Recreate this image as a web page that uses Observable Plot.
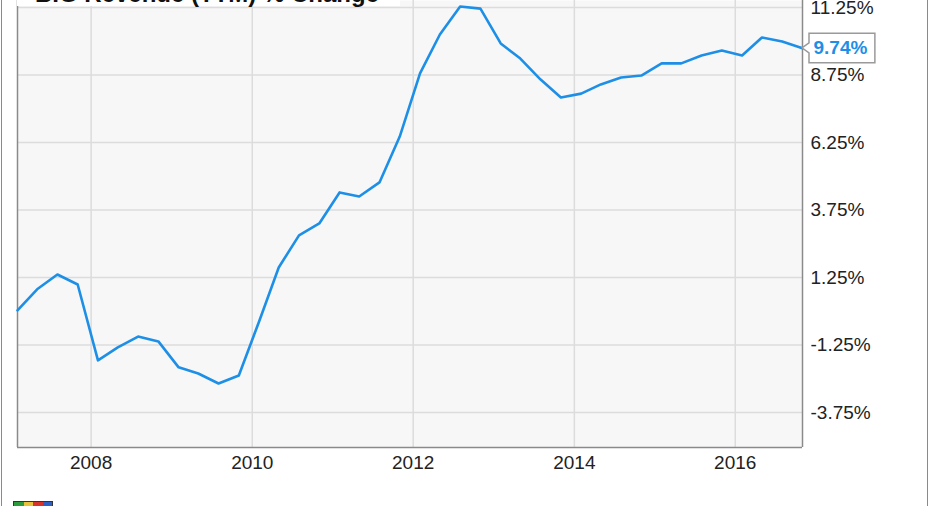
<!DOCTYPE html>
<html>
<head>
<meta charset="utf-8">
<script src="https://cdn.jsdelivr.net/npm/d3@7"></script>
<script src="https://cdn.jsdelivr.net/npm/@observablehq/plot@0.6"></script>
<style>
  html, body { margin: 0; padding: 0; background: #fff; overflow: hidden; }
  #wrap { position: relative; width: 931px; height: 506px; overflow: hidden; font-family: "Liberation Sans", Arial, sans-serif; }
  #title { position: absolute; left: 17px; top: -19px; width: 365px; height: 25px; line-height: 25px; padding-left: 18px;
           background: #fff; font-weight: bold; font-size: 24px; color: #111; white-space: nowrap; }
  #outer { position: absolute; left: 1px; top: 0; width: 925px; height: 506px; border-left: 1px solid #8a8a8a; border-right: 1px solid #8a8a8a; pointer-events: none; }
  #logo { position: absolute; left: 13px; top: 501px; width: 38px; height: 6px; border: 1px solid #333; display: flex; }
  #logo span { flex: 1; }
</style>
</head>
<body>
<div id="wrap">
  <div id="chart"></div>
  <div id="title"></div>
  <div id="outer"></div>
  <div id="logo"><span style="background:#2a9d3a"></span><span style="background:#e8c23a"></span><span style="background:#d8322c"></span><span style="background:#2d5fc4"></span></div>
</div>
<script>
const titleText = "BIG Revenue (TTM) % Change";
const dates = [
  "2007-02-01","2007-05-01","2007-08-01","2007-11-01",
  "2008-02-01","2008-05-01","2008-08-01","2008-11-01",
  "2009-02-01","2009-05-01","2009-08-01","2009-11-01",
  "2010-02-01","2010-05-01","2010-08-01","2010-11-01",
  "2011-02-01","2011-05-01","2011-08-01","2011-11-01",
  "2012-02-01","2012-05-01","2012-08-01","2012-11-01",
  "2013-02-01","2013-05-01","2013-08-01","2013-11-01",
  "2014-02-01","2014-05-01","2014-08-01","2014-11-01",
  "2015-02-01","2015-05-01","2015-08-01","2015-11-01",
  "2016-02-01","2016-05-01","2016-08-01","2016-11-01"
];
const values = [
  0.03, 0.81, 1.36, 0.99,
  -1.82, -1.34, -0.94, -1.12,
  -2.08, -2.31, -2.68, -2.38,
  -0.38, 1.62, 2.81, 3.25,
  4.40, 4.25, 4.77, 6.47,
  8.81, 10.25, 11.29, 11.21,
  9.92, 9.36, 8.58, 7.92,
  8.06, 8.40, 8.66, 8.73,
  9.18, 9.18, 9.47, 9.66,
  9.47, 10.14, 9.99, 9.74
];
const yTicks = [-3.75, -1.25, 1.25, 3.75, 6.25, 8.75, 11.25];
const xTickYears = ["2008", "2010", "2012", "2014", "2016"];
const yDomain = [-5.05, 11.51];
const xDomain = ["2007-02-01", "2016-11-01"];

const data = dates.map((d, i) => ({date: new Date(d), value: values[i]}));
const last = data[data.length - 1];
const xTicks = xTickYears.map(y => new Date(y + "-01-01"));
const blue = "#1e8fe6";

document.getElementById("title").textContent = titleText;

const chart = Plot.plot({
  width: 931,
  height: 506,
  marginLeft: 17,
  marginRight: 129,
  marginTop: 0,
  marginBottom: 59,
  style: {fontFamily: "'Liberation Sans', Arial, sans-serif", fontSize: "19px", color: "#222", background: "transparent"},
  x: {type: "utc", domain: xDomain.map(d => new Date(d))},
  y: {domain: yDomain},
  marks: [
    Plot.frame({fill: "#f7f7f7", stroke: null}),
    Plot.gridX(xTicks, {stroke: "#dcdcdc", strokeOpacity: 1, strokeWidth: 1.5}),
    Plot.gridY(yTicks, {stroke: "#dcdcdc", strokeOpacity: 1, strokeWidth: 1.5}),
    Plot.ruleY([yDomain[0]], {stroke: "#8a8a8a", strokeWidth: 1.5}),
    Plot.ruleX([new Date(xDomain[0]), new Date(xDomain[1])], {stroke: "#8a8a8a", strokeWidth: 1.5}),
    Plot.axisX({ticks: xTicks, tickFormat: d3.utcFormat("%Y"), tickSize: 0, tickPadding: 8, fontSize: 19, label: null}),
    Plot.axisY({anchor: "right", ticks: yTicks, tickFormat: d => d.toFixed(2) + "%", tickSize: 0, tickPadding: 8, fontSize: 19, label: null}),
    Plot.line(data, {x: "date", y: "value", stroke: blue, strokeWidth: 2.6}),
    Plot.text([last], {x: "date", y: "value", text: d => d.value.toFixed(2) + "%", dx: 11, textAnchor: "start",
                       fill: blue, fontWeight: "bold", fontSize: 19, className: "lastlabel"})
  ]
});
document.getElementById("chart").appendChild(chart);

// callout box around the last-value label, drawn in svg root coordinates
const xs = chart.scale("x"), ys = chart.scale("y");
const px = xs.apply(last.date), py = ys.apply(last.value);
const t = chart.querySelector(".lastlabel text");
if (t) {
  const tw = t.getComputedTextLength();
  const left = px + 7, right = px + 11 + tw + 8;
  const top = py - 14.5, bottom = py + 15;
  const d = `M${px},${py} L${left},${py - 5} L${left},${top} L${right},${top} L${right},${bottom} L${left},${bottom} L${left},${py + 5} Z`;
  const g = t.parentNode;
  const path = document.createElementNS("http://www.w3.org/2000/svg", "path");
  path.setAttribute("d", d);
  path.setAttribute("fill", "#fff");
  path.setAttribute("stroke", "#9a9a9a");
  path.setAttribute("stroke-width", "1.5");
  g.parentNode.insertBefore(path, g);
}
</script>
</body>
</html>
